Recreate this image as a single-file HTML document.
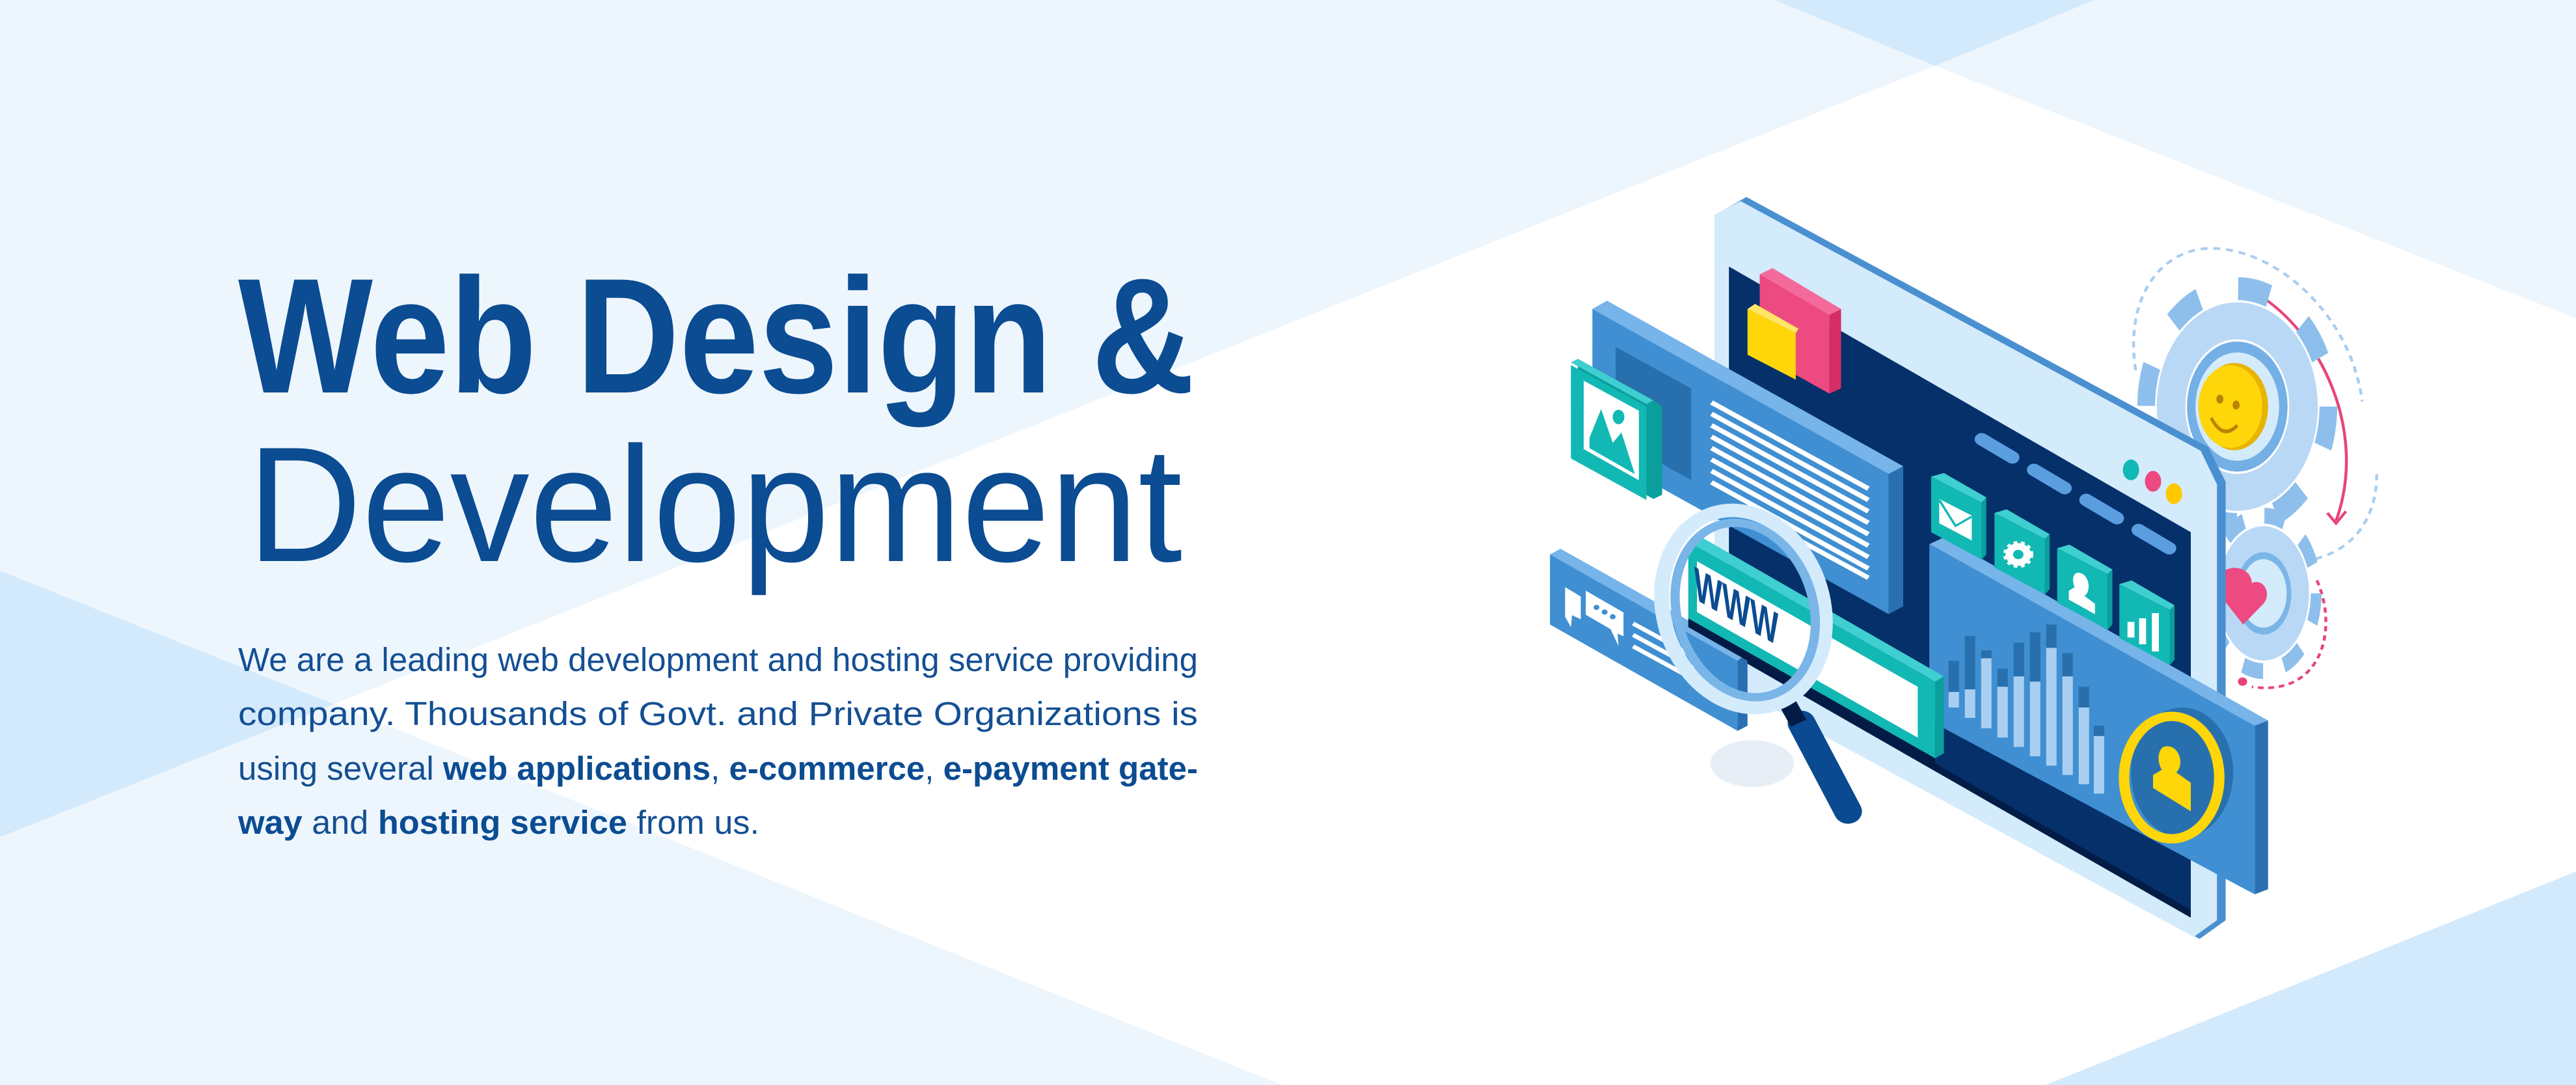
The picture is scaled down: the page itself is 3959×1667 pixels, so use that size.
<!DOCTYPE html>
<html><head><meta charset="utf-8"><style>
html,body{margin:0;padding:0;width:3959px;height:1667px;overflow:hidden;background:#eef6fd}
svg{display:block}
</style></head><body>
<svg width="3959" height="1667" viewBox="0 0 3959 1667" xmlns="http://www.w3.org/2000/svg">
<rect width="3959" height="1667" fill="#eef6fd"/>
<polygon points="2974,101 3959,489 3959,1339 3144,1667 1970,1667 513,1082" fill="#ffffff"/>
<polygon points="2727,0 3219,0 2974,101" fill="#d3e9fc"/>
<polygon points="0,877 513,1082 0,1286" fill="#d3e9fc"/>
<polygon points="3144,1667 3959,1339 3959,1667" fill="#d3e9fc"/>

<g font-family="'Liberation Sans', sans-serif" fill="#0b4c92">
<text x="366" y="603" font-size="252" font-weight="bold" textLength="1470" lengthAdjust="spacingAndGlyphs">Web Design &amp;</text>
<text x="380" y="862" font-size="252" textLength="1437" lengthAdjust="spacingAndGlyphs">Development</text>
<g font-size="51" fill="#144f93">
<text x="366" y="1031" textLength="1475" lengthAdjust="spacingAndGlyphs">We are a leading web development and hosting service providing</text>
<text x="366" y="1114" textLength="1475" lengthAdjust="spacingAndGlyphs">company. Thousands of Govt. and Private Organizations is</text>
<text x="366" y="1198" textLength="1475" lengthAdjust="spacingAndGlyphs">using several <tspan font-weight="bold" fill="#0b4c92">web applications</tspan>, <tspan font-weight="bold" fill="#0b4c92">e-commerce</tspan>, <tspan font-weight="bold" fill="#0b4c92">e-payment gate-</tspan></text>
<text x="366" y="1281" textLength="801" lengthAdjust="spacingAndGlyphs"><tspan font-weight="bold" fill="#0b4c92">way</tspan> and <tspan font-weight="bold" fill="#0b4c92">hosting service</tspan> from us.</text>
</g>
</g>

<!-- illustration in zoom coordinates -->
<g transform="translate(2300 250) scale(0.8929 0.7972)">
 <!-- dashed orbits -->
 <path d="M1100,400 C1080,250 1150,165 1230,165 C1340,165 1470,290 1490,460" fill="none" stroke="#a9cdf0" stroke-width="5" stroke-dasharray="12 10"/>
 <path d="M1515,600 C1515,700 1460,770 1360,770" fill="none" stroke="#a9cdf0" stroke-width="5" stroke-dasharray="12 10"/>
 <path d="M1312,255 C1420,330 1500,520 1445,690" fill="none" stroke="#e8447a" stroke-width="5"/>
 <circle cx="1310" cy="255" r="9" fill="#e8447a"/>
 <path d="M1430,675 L1445,695 L1462,672" fill="none" stroke="#e8447a" stroke-width="5"/>
 <path d="M1412,805 C1450,900 1420,1030 1300,1010" fill="none" stroke="#e8447a" stroke-width="5" stroke-dasharray="10 8"/>
 <circle cx="1284" cy="1000" r="8" fill="#e8447a"/>
 <!-- small gear -->
 <g transform="translate(1320 830) scale(1 1.65)">
  <circle r="85" fill="none" stroke="#8ebfec" stroke-width="30" stroke-dasharray="33 34"/>
  <circle r="80" fill="#b9d8f5" stroke="#ffffff" stroke-width="3"/>
  <circle r="48" fill="#7ab5e8"/>
  <circle r="40" fill="#d4ebfc"/>
 </g>
 <path d="M1248,790 C1270,770 1300,785 1300,810 C1320,800 1335,830 1320,850 L1285,890 L1250,840 Z" fill="#ec4a80"/>
 <!-- big gear -->
 <g transform="translate(1275 470) scale(1 1.45)">
  <circle r="150" fill="none" stroke="#8ebfec" stroke-width="44" stroke-dasharray="52 66"/>
  <circle r="140" fill="#b9d8f5" stroke="#ffffff" stroke-width="3"/>
  <circle r="88" fill="#74b0e6" stroke="#ffffff" stroke-width="3"/>
  <circle r="72" fill="#d4ebfc"/>
  <circle cx="-5" r="58" fill="#e8b400"/>
  <circle cx="-12" r="55" fill="#ffd60a"/>
  <circle cx="-30" cy="-10" r="6" fill="#b98400"/>
  <circle cx="-2" cy="-2" r="6" fill="#b98400"/>
  <path d="M-45,15 Q-25,45 0,25" fill="none" stroke="#b98400" stroke-width="5"/>
 </g>
 <!-- monitor -->
 <polygon points="385,95 430,66 1225,548 1255,615 1255,1460 1210,1496 385,985" fill="#4a90d0"/>
 <polygon points="375,100 420,74 1212,555 1240,620 1240,1460 1200,1492 375,990" fill="#d4ebfc"/>
 <polygon points="400,200 1195,712 1195,1455 400,945" fill="#05306a"/>
 <polygon points="400,930 1195,1440 1195,1455 400,945" fill="#021c45"/>
 <ellipse cx="1092" cy="592" rx="14" ry="20" fill="#12b8b4"/>
 <ellipse cx="1130" cy="614" rx="14" ry="20" fill="#ec4a80"/>
 <ellipse cx="1166" cy="638" rx="14" ry="20" fill="#ffc800"/>
 <g stroke="#5a9ee0" stroke-width="24" stroke-linecap="round">
  <line x1="835" y1="533" x2="888" y2="568"/>
  <line x1="925" y1="592" x2="978" y2="627"/>
  <line x1="1015" y1="650" x2="1068" y2="685"/>
  <line x1="1105" y1="708" x2="1158" y2="743"/>
 </g>
 <!-- pink/yellow blocks -->
 <polygon points="453,215 475,203 593,282 573,293" fill="#f46a9a"/>
 <polygon points="453,215 573,293 573,445 453,370" fill="#ec4a80"/>
 <polygon points="573,293 593,282 593,435 573,445" fill="#d42e64"/>
 <polygon points="432,282 445,272 520,320 515,328" fill="#ffe566"/>
 <polygon points="432,282 515,328 515,418 432,370" fill="#ffd60a"/>
 <!-- left content panel -->
 <polygon points="165,282 190,266 700,585 675,600" fill="#76b4ea"/>
 <polygon points="165,282 675,600 675,870 165,553" fill="#3f8fd2"/>
 <polygon points="675,600 700,585 700,855 675,870" fill="#2a6fb0"/>
 <polygon points="205,355 335,435 335,612 205,530" fill="#2870ad"/>
 <g stroke="#ffffff" stroke-width="9">
  <line x1="370" y1="462" x2="640" y2="628"/>
  <line x1="370" y1="484" x2="640" y2="650"/>
  <line x1="370" y1="506" x2="640" y2="672"/>
  <line x1="370" y1="528" x2="640" y2="694"/>
  <line x1="370" y1="550" x2="640" y2="716"/>
  <line x1="370" y1="572" x2="640" y2="738"/>
  <line x1="370" y1="594" x2="640" y2="760"/>
  <line x1="370" y1="616" x2="640" y2="782"/>
  <line x1="430" y1="672" x2="640" y2="800"/>
 </g>
 <!-- teal image icon -->
 <polygon points="140,378 270,458 285,470 285,640 270,648 140,568" fill="#0a9f9c"/>
 <polygon points="128,385 140,378 270,458 258,465" fill="#3fcfd0"/>
 <polygon points="128,390 258,470 258,650 128,570" fill="#12b8b4"/>
 <polygon points="150,420 245,478 245,612 150,552" fill="#ffffff"/>
 <polygon points="160,530 180,475 200,540 215,520 238,600 160,550" fill="#12b8b4"/>
 <ellipse cx="210" cy="490" rx="10" ry="14" fill="#12b8b4"/>
 <!-- chat panel -->
 <polygon points="92,755 110,744 432,946 415,960" fill="#76b4ea"/>
 <polygon points="92,755 415,960 415,1095 92,890" fill="#3f8fd2"/>
 <polygon points="415,960 432,946 432,1085 415,1095" fill="#2a6fb0"/>
 <polygon points="118,818 145,836 145,880 130,872 128,895 118,875" fill="#ffffff"/>
 <polygon points="152,822 220,866 220,915 210,910 212,940 195,900 152,872" fill="#ffffff" stroke="#3f8fd2" stroke-width="3"/>
 <g fill="#3f8fd2"><circle cx="172" cy="857" r="5"/><circle cx="186" cy="866" r="5"/><circle cx="200" cy="875" r="5"/></g>
 <g stroke="#ffffff" stroke-width="8">
  <line x1="235" y1="888" x2="340" y2="952"/>
  <line x1="235" y1="910" x2="340" y2="974"/>
  <line x1="235" y1="932" x2="340" y2="996"/>
 </g>
 <!-- chart panel -->
 <polygon points="745,735 770,722 1328,1075 1305,1085" fill="#76b4ea"/>
 <polygon points="745,735 1305,1085 1305,1410 745,1075" fill="#3f8fd2"/>
 <polygon points="1305,1085 1328,1075 1328,1400 1305,1410" fill="#2a6fb0"/>
 <g stroke-width="18">
  <line x1="787" y1="960" x2="787" y2="1050" stroke="#2870ad"/><line x1="787" y1="1020" x2="787" y2="1050" stroke="#a8cff2"/>
  <line x1="815" y1="912" x2="815" y2="1070" stroke="#2870ad"/><line x1="815" y1="1015" x2="815" y2="1070" stroke="#a8cff2"/>
  <line x1="843" y1="940" x2="843" y2="1090" stroke="#2870ad"/><line x1="843" y1="955" x2="843" y2="1090" stroke="#a8cff2"/>
  <line x1="871" y1="975" x2="871" y2="1108" stroke="#2870ad"/><line x1="871" y1="1010" x2="871" y2="1108" stroke="#a8cff2"/>
  <line x1="899" y1="925" x2="899" y2="1126" stroke="#2870ad"/><line x1="899" y1="990" x2="899" y2="1126" stroke="#a8cff2"/>
  <line x1="927" y1="905" x2="927" y2="1144" stroke="#2870ad"/><line x1="927" y1="1000" x2="927" y2="1144" stroke="#a8cff2"/>
  <line x1="955" y1="890" x2="955" y2="1162" stroke="#2870ad"/><line x1="955" y1="935" x2="955" y2="1162" stroke="#a8cff2"/>
  <line x1="983" y1="945" x2="983" y2="1180" stroke="#2870ad"/><line x1="983" y1="990" x2="983" y2="1180" stroke="#a8cff2"/>
  <line x1="1011" y1="1010" x2="1011" y2="1198" stroke="#2870ad"/><line x1="1011" y1="1050" x2="1011" y2="1198" stroke="#a8cff2"/>
  <line x1="1037" y1="1085" x2="1037" y2="1216" stroke="#2870ad"/><line x1="1037" y1="1105" x2="1037" y2="1216" stroke="#a8cff2"/>
 </g>
 <!-- user coin -->
 <ellipse cx="1180" cy="1175" rx="88" ry="125" fill="#2870ad"/>
 <ellipse cx="1162" cy="1185" rx="82" ry="118" fill="none" stroke="#ffd60a" stroke-width="18"/>
 <ellipse cx="1162" cy="1185" rx="62" ry="95" fill="#2870ad"/>
 <path d="M1150,1125 C1175,1120 1185,1160 1170,1175 L1195,1195 L1195,1250 L1130,1205 L1130,1180 L1145,1170 C1135,1150 1140,1128 1150,1125 Z" fill="#ffd60a"/>
 <!-- teal icons -->
 <g>
  <polygon points="748,605 770,598 843,645 835,655" fill="#3fcfd0"/>
  <polygon points="748,605 835,655 835,765 748,712" fill="#12b8b4"/>
  <polygon points="835,655 843,645 843,755 835,765" fill="#0a9f9c"/>
  <polygon points="762,648 818,680 818,728 762,695" fill="#ffffff"/>
  <polyline points="762,650 790,700 818,682" fill="none" stroke="#12b8b4" stroke-width="4"/>
  <polygon points="857,675 878,668 952,716 944,725" fill="#3fcfd0"/>
  <polygon points="857,675 944,725 944,832 857,780" fill="#12b8b4"/>
  <polygon points="944,725 952,716 952,822 944,832" fill="#0a9f9c"/>
  <circle cx="898" cy="755" r="22" fill="#ffffff" stroke="#ffffff" stroke-width="8" stroke-dasharray="6 6"/>
  <circle cx="898" cy="755" r="9" fill="#12b8b4"/>
  <polygon points="965,743 986,736 1060,784 1052,793" fill="#3fcfd0"/>
  <polygon points="965,743 1052,793 1052,900 965,848" fill="#12b8b4"/>
  <polygon points="1052,793 1060,784 1060,890 1052,900" fill="#0a9f9c"/>
  <path d="M1000,790 C1020,790 1025,825 1012,835 L1030,850 L1030,870 L985,842 L985,825 L995,818 C990,805 992,792 1000,790 Z" fill="#ffffff"/>
  <polygon points="1072,812 1093,805 1167,853 1159,862" fill="#3fcfd0"/>
  <polygon points="1072,812 1159,862 1159,968 1072,916" fill="#12b8b4"/>
  <polygon points="1159,862 1167,853 1167,958 1159,968" fill="#0a9f9c"/>
  <g fill="#ffffff"><rect x="1086" y="885" width="12" height="30"/><rect x="1106" y="878" width="12" height="50"/><rect x="1128" y="868" width="12" height="74"/></g>
 </g>
 <!-- www bar -->
 <polygon points="330,730 350,720 770,990 755,1000" fill="#3fcfd0"/>
 <polygon points="330,730 755,1000 755,1148 330,878" fill="#12b8b4"/>
 <polygon points="755,1000 770,990 770,1138 755,1148" fill="#0a9f9c"/>
 <polygon points="345,768 725,1010 725,1108 345,866" fill="#ffffff"/>
 <polygon points="330,878 755,1148 755,1165 330,895" fill="#021c45"/>
 <text x="0" y="0" transform="translate(340 840) matrix(1 0.63 0 1 0 0)" font-family="'Liberation Sans', sans-serif" font-weight="bold" font-size="90" fill="#0b4c92" textLength="145" lengthAdjust="spacingAndGlyphs">WWW</text>
 <!-- magnifier -->
 <ellipse cx="440" cy="1158" rx="72" ry="45" fill="#e7eef6"/>
 <line x1="525" y1="1080" x2="605" y2="1250" stroke="#0a4a90" stroke-width="48" stroke-linecap="round"/>
 <line x1="500" y1="1040" x2="520" y2="1080" stroke="#021c45" stroke-width="30"/>
 <ellipse cx="425" cy="860" rx="138" ry="192" transform="rotate(-12 425 860)" fill="none" stroke="#d4ebfc" stroke-width="26"/>
 <ellipse cx="428" cy="862" rx="118" ry="170" transform="rotate(-12 428 862)" fill="none" stroke="#7ab5e8" stroke-width="16"/>
</g>
</svg>
</body></html>
